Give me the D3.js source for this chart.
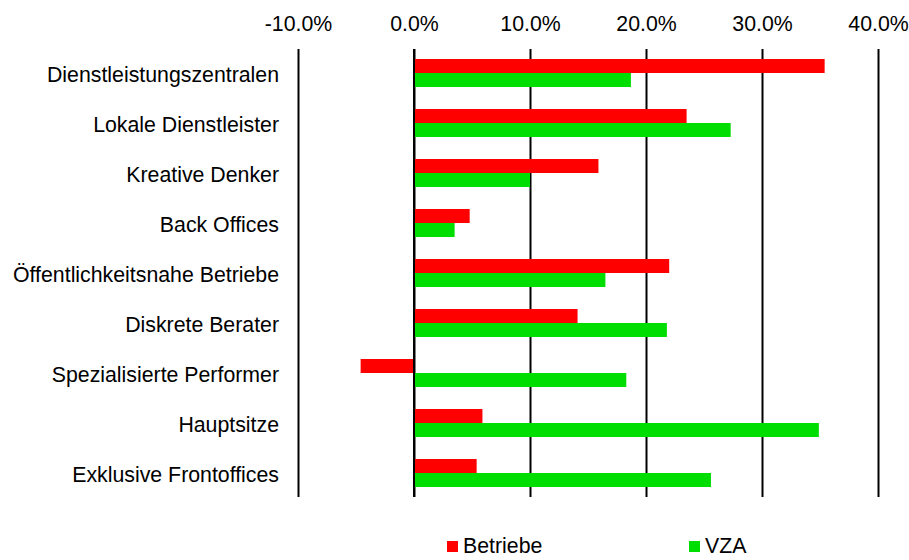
<!DOCTYPE html>
<html>
<head>
<meta charset="utf-8">
<script src="https://cdn.jsdelivr.net/npm/d3@7"></script>
<style>
  body { margin: 0; background: #fff; }
  svg { display: block; font-family: "Liberation Sans", Arial, sans-serif; }
  .axis text { font-size: 21.3px; fill: #000; }
</style>
</head>
<body>
<svg id="chart" width="909" height="560"></svg>
<script>
"use strict";

var categories = [
	"Dienstleistungszentralen",
	"Lokale Dienstleister",
	"Kreative Denker",
	"Back Offices",
	"Öffentlichkeitsnahe Betriebe",
	"Diskrete Berater",
	"Spezialisierte Performer",
	"Hauptsitze",
	"Exklusive Frontoffices"
];
var seriesNames = ["Betriebe", "VZA"];
var betriebe = [35.4, 23.5, 15.9, 4.8, 22.0, 14.1, -4.6, 5.9, 5.4];
var vza      = [18.7, 27.3, 10.0, 3.5, 16.5, 21.8, 18.3, 34.9, 25.6];
var xTicks = [-10, 0, 10, 20, 30, 40];
var colors = ["#ff0000", "#00dd00"];

var svg = d3.select("#chart");

var x = d3.scaleLinear().domain([-10, 40]).range([298, 878]);
var y = d3.scaleBand().domain(categories).range([48, 498]);
var ySub = d3.scaleBand().domain(seriesNames).range([11, 39]);

// gridlines + top labels (plain hyphen for negatives, like the source)
var xAxis = d3.axisTop(x)
	.tickValues(xTicks)
	.tickSize(-(497 - 49))
	.tickPadding(18)
	.tickFormat(d => d.toFixed(1) + "%");

svg.append("g")
   .attr("class", "axis")
   .attr("transform", "translate(0,49)")
   .call(xAxis)
   .call(g => g.select(".domain").remove())
   .call(g => g.selectAll(".tick line").attr("stroke", "#000").attr("stroke-width", 2));

// bars
var rows = categories.map((c, i) => ({cat: c, vals: [betriebe[i], vza[i]]}));

var grp = svg.append("g")
   .selectAll("g")
   .data(rows)
   .enter()
   .append("g")
   .attr("transform", d => "translate(0," + y(d.cat) + ")");

grp.selectAll("rect")
   .data(d => d.vals.map((v, j) => ({name: seriesNames[j], v: v, j: j})))
   .enter()
   .append("rect")
   .attr("x", d => x(Math.min(0, d.v)))
   .attr("width", d => Math.abs(x(d.v) - x(0)))
   .attr("y", d => ySub(d.name))
   .attr("height", ySub.bandwidth())
   .attr("fill", d => colors[d.j]);

// zero line on top of bars
svg.append("line")
   .attr("x1", x(0)).attr("x2", x(0))
   .attr("y1", 49).attr("y2", 497)
   .attr("stroke", "#000")
   .attr("stroke-width", 2);

// category labels
svg.append("g")
   .attr("class", "axis")
   .attr("transform", "translate(" + x(-10) + ",0)")
   .call(d3.axisLeft(y).tickSize(0).tickPadding(19))
   .call(g => g.select(".domain").remove())
   .call(g => g.selectAll(".tick text").attr("dy", "0.4em"));

// legend
var legendX = [447, 689];
var leg = svg.append("g")
   .selectAll("g")
   .data(seriesNames)
   .enter()
   .append("g")
   .attr("transform", (d, i) => "translate(" + legendX[i] + ",541)");

leg.append("rect")
   .attr("width", 11)
   .attr("height", 11)
   .attr("fill", (d, i) => colors[i]);

leg.append("text")
   .attr("x", 16)
   .attr("y", 12)
   .attr("font-size", "21.3px")
   .text(d => d);
</script>
</body>
</html>
